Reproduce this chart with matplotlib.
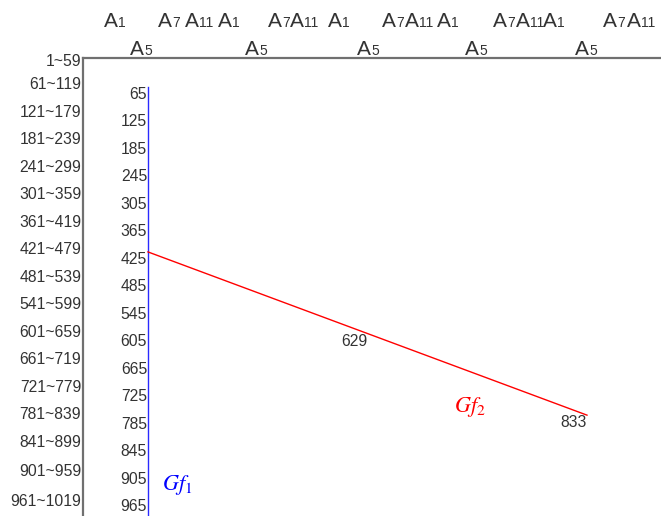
import matplotlib
matplotlib.use('Agg')
import matplotlib.pyplot as plt

plt.rcParams['font.family'] = ['Liberation Sans', 'DejaVu Sans']

# Row labels on the left axis and where they sit (in value units)
row_labels = ['1~59', '61~119', '121~179', '181~239', '241~299', '301~359',
              '361~419', '421~479', '481~539', '541~599', '601~659', '661~719',
              '721~779', '781~839', '841~899', '901~959', '961~1019']
row_pos = [10, 60, 120, 180, 240, 300, 360, 420, 480, 540, 600, 660,
           720, 780, 840, 905, 970]

# Gf1 : vertical scale with its tick values
gf1_values = [65, 125, 185, 245, 305, 365, 425, 485, 545, 605, 665,
              725, 785, 845, 905, 965]
gf1_span = [65, 1030]

# Gf2 : straight line, drawn positions and printed values
gf2_x = [0.0, 1.0]
gf2_y = [425, 781]
gf2_labels = ['425', '629', '833']

# Top header labels: (subscript, x position) on two rows
top_row1 = [('1', -0.100), ('7', 0.023), ('11', 0.084),
            ('1', 0.159), ('7', 0.273), ('11', 0.323),
            ('1', 0.410), ('7', 0.533), ('11', 0.585),
            ('1', 0.658), ('7', 0.786), ('11', 0.838),
            ('1', 0.900), ('7', 1.036), ('11', 1.091)]
top_row2 = [('5', -0.041), ('5', 0.221), ('5', 0.476), ('5', 0.722), ('5', 0.973)]

txt = '#333333'
fs = 11.3
fig = plt.figure(figsize=(6.61, 5.16), dpi=100)
ax = fig.add_axes([83 / 661, 0, 1 - 83 / 661, 1 - 58 / 516])
ax.set_xlim(-0.148, 1.1686)
ax.set_ylim(1001, 2)
for s in ['right', 'bottom']:
    ax.spines[s].set_visible(False)
for s in ['left', 'top']:
    ax.spines[s].set_color('#707070')
    ax.spines[s].set_linewidth(1.6)
ax.set_xticks([])
ax.set_yticks([])

# row labels outside left spine
for lab, p in zip(row_labels, row_pos):
    ax.text(-0.152, p, lab, ha='right', va='center', fontsize=fs, color=txt, clip_on=False)

# Gf1 vertical line and values
ax.plot([0, 0], gf1_span, color='#2a2aff', lw=1.0)
for v in gf1_values:
    ax.text(-0.002, v, str(v), ha='right', va='top', fontsize=fs, color=txt)

# Gf2 line
ax.plot(gf2_x, gf2_y, color='red', lw=1.0)
mid_x = (gf2_x[0] + gf2_x[1]) / 2
mid_y = (gf2_y[0] + gf2_y[1]) / 2
ax.text(mid_x, mid_y, gf2_labels[1], ha='right', va='top', fontsize=fs, color=txt)
ax.text(gf2_x[1], gf2_y[1], gf2_labels[2], ha='right', va='top', fontsize=fs, color=txt)

ax.text(0.032, 944, r'$Gf_1$', color='blue', fontsize=16, math_fontfamily='stix', ha='left', va='baseline')
ax.text(0.697, 774, r'$Gf_2$', color='red', fontsize=16, math_fontfamily='stix', ha='left', va='baseline')

# header labels: big "A" then a smaller number on the same baseline
def header(x, y, sub):
    ax.text(x, y, 'A', fontsize=15, color=txt, ha='left', va='baseline', clip_on=False)
    ax.annotate(sub, xy=(x, y), xycoords='data', xytext=(10.2, 0), textcoords='offset points',
                fontsize=10, color=txt, ha='left', va='baseline', annotation_clip=False)

for sub, x in top_row1:
    header(x, -66, sub)
for sub, x in top_row2:
    header(x, -5, sub)

fig.savefig('out.png', dpi=100)
